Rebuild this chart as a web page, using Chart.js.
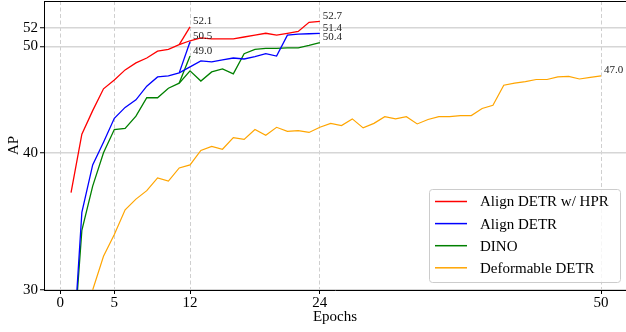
<!DOCTYPE html>
<html><head><meta charset="utf-8">
<script src="https://cdn.jsdelivr.net/npm/chart.js@4/dist/chart.umd.min.js"></script>
<style>html,body{margin:0;padding:0;background:#fff;}#wrap{width:626px;height:332px;position:relative;}</style>
</head><body><div id="wrap"><canvas id="c"></canvas></div>
<script>
// ---- data ----
const epochs24 = [1,2,3,4,5,6,7,8,9,10,11,12,13,14,15,16,17,18,19,20,21,22,23,24];
const alignHPR24 = [36.8,41.6,43.7,45.75,46.6,47.6,48.3,48.8,49.5,49.7,50.2,50.6,50.9,50.8,50.8,50.8,51.0,51.2,51.4,51.2,51.4,51.6,52.6,52.7];
const alignDETR24 = [24.7,35.3,39.0,40.9,43.0,44.0,44.7,46.0,46.9,47.0,47.3,47.9,48.5,48.4,48.6,48.8,48.7,48.95,49.25,49.0,51.2,51.3,51.35,51.4];
const dino24 = [24.9,34.0,37.3,40.0,42.0,42.1,43.2,44.9,44.9,45.8,46.3,47.5,46.5,47.4,47.7,47.2,49.25,49.7,49.8,49.8,49.85,49.85,50.1,50.4];
const epochs12Tail = [11,12];
const alignHPR12Tail = [50.2,52.1];
const alignDETR12Tail = [47.3,50.5];
const dino12Tail = [46.3,49.0];
const epochsDeform = [3,4,5,6,7,8,9,10,11,12,13,14,15,16,17,18,19,20,21,22,23,24,25,26,27,28,29,30,31,32,33,34,35,36,37,38,39,40,41,42,43,44,45,46,47,48,49,50];
const deformable = [30.0,32.2,33.7,35.5,36.3,36.95,37.95,37.7,38.75,39.0,40.2,40.55,40.3,41.3,41.15,42.0,41.5,42.2,41.85,41.9,41.75,42.2,42.55,42.35,42.95,42.15,42.55,43.15,42.95,43.15,42.5,42.9,43.15,43.15,43.25,43.25,43.9,44.2,46.1,46.3,46.45,46.65,46.65,46.9,46.95,46.7,46.85,47.0];
const seriesNames = ['Align DETR w/ HPR','Align DETR','DINO','Deformable DETR'];
const xTicks = [0,5,12,24,50];
const yTicks = [30,40,50,52];

const colors = ['#ff0000','#0000ff','#008000','#ffa500'];
const pts = (xs, ys) => xs.map((x,i)=>({x:x, y:ys[i]}));
const FONT = "'Liberation Serif','Times New Roman',serif";

const mk = (label, xs, ys, color, w, legend) => ({
  label, data: pts(xs, ys), borderColor: color, backgroundColor: color,
  borderWidth: w, pointRadius: 0, tension: 0, fill: false, showInLegend: legend
});

const datasets = [
  mk(seriesNames[3], epochsDeform, deformable, colors[3], 1.2, true),
  mk(seriesNames[2], epochs24, dino24, colors[2], 1.3, true),
  mk(seriesNames[2]+' 12', epochs12Tail, dino12Tail, colors[2], 1.3, false),
  mk(seriesNames[1], epochs24, alignDETR24, colors[1], 1.3, true),
  mk(seriesNames[1]+' 12', epochs12Tail, alignDETR12Tail, colors[1], 1.3, false),
  mk(seriesNames[0], epochs24, alignHPR24, colors[0], 1.3, true),
  mk(seriesNames[0]+' 12', epochs12Tail, alignHPR12Tail, colors[0], 1.3, false),
];
datasets.forEach((d,i)=>{ d.order = datasets.length - i; });

const endLabelPlugin = {
  id: 'endLabels',
  afterDatasetsDraw(chart) {
    const {ctx, scales:{x, y}} = chart;
    ctx.save();
    ctx.font = "11px " + FONT;
    ctx.fillStyle = '#222';
    ctx.textAlign = 'left';
    ctx.textBaseline = 'alphabetic';
    chart.data.datasets.forEach(ds => {
      const last = ds.data[ds.data.length-1];
      const px = x.getPixelForValue(last.x), py = y.getPixelForValue(last.y);
      ctx.fillText(last.y.toFixed(1), px + 3, py - 2.5);
    });
    ctx.restore();
  }
};

const framePlugin = {
  id: 'frame',
  afterDraw(chart) {
    const {ctx, chartArea:a} = chart;
    ctx.save();
    ctx.strokeStyle = '#000'; ctx.lineWidth = 1;
    ctx.beginPath(); ctx.moveTo(a.left, a.top + 0.5); ctx.lineTo(a.right, a.top + 0.5); ctx.stroke();
    const lx = 429, ly = 189, lw = 191, lh = 93;
    ctx.beginPath();
    ctx.roundRect(lx + 0.5, ly + 0.5, lw, lh, 3);
    ctx.fillStyle = 'rgba(255,255,255,0.8)';
    ctx.fill();
    ctx.strokeStyle = '#cccccc'; ctx.lineWidth = 1;
    ctx.stroke();
    const legendSets = chart.data.datasets.filter(d => d.showInLegend);
    const order = seriesNames.map(n => legendSets.find(d => d.label === n));
    ctx.font = "15px " + FONT;
    ctx.textBaseline = 'middle';
    ctx.textAlign = 'left';
    order.forEach((d, i) => {
      const cy = 201.5 + i * 22.1;
      ctx.strokeStyle = d.borderColor; ctx.lineWidth = 1.5;
      ctx.beginPath(); ctx.moveTo(435, cy); ctx.lineTo(467, cy); ctx.stroke();
      ctx.fillStyle = '#000';
      ctx.fillText(d.label, 480, cy + 1);
    });
    ctx.restore();
  }
};

new Chart(document.getElementById('c'), {
  type: 'line',
  data: { datasets },
  plugins: [endLabelPlugin, framePlugin],
  options: {
    responsive: true, maintainAspectRatio: false, animation: false,
    devicePixelRatio: 1,
    layout: { padding: { top: 1, right: 0, left: 0, bottom: 0 } },
    plugins: { legend: { display: false }, tooltip: { enabled: false } },
    scales: {
      x: {
        type: 'linear', min: -1.5, max: 52.3,
        afterBuildTicks: s => { s.ticks = xTicks.map(v => ({value: v})); },
        afterFit: s => { s.height = 42; s.paddingLeft = 0; s.paddingRight = 0; },
        ticks: { autoSkip: false, maxRotation: 0, color: '#000', padding: 0,
                 font: { family: FONT, size: 15 }, callback: v => String(v) },
        grid: { color: '#cfcfcf', lineWidth: 1, drawTicks: true, tickLength: 4, tickColor: '#000', tickWidth: 1 },
        border: { display: true, color: '#000', width: 1, dash: [4, 2.5] },
        title: { display: true, text: 'Epochs', color: '#000', font: { family: FONT, size: 15 }, padding: { top: 0, bottom: 6 } }
      },
      y: {
        type: 'logarithmic', min: 30, max: 55.0,
        afterBuildTicks: s => { s.ticks = yTicks.map(v => ({value: v})); },
        afterFit: s => { s.width = 44; s.paddingTop = 0; s.paddingBottom = 0; },
        ticks: { autoSkip: false, color: '#000', padding: 2,
                 font: { family: FONT, size: 15 }, callback: v => String(v) },
        grid: { color: '#d6d6d6', lineWidth: 1.5, drawTicks: true, tickLength: 4, tickColor: '#000', tickWidth: 1 },
        border: { display: true, color: '#000', width: 1 },
        title: { display: true, text: 'AP', color: '#000', font: { family: FONT, size: 15 }, padding: { top: 5, bottom: 0 } }
      }
    }
  }
});
</script></body></html>
